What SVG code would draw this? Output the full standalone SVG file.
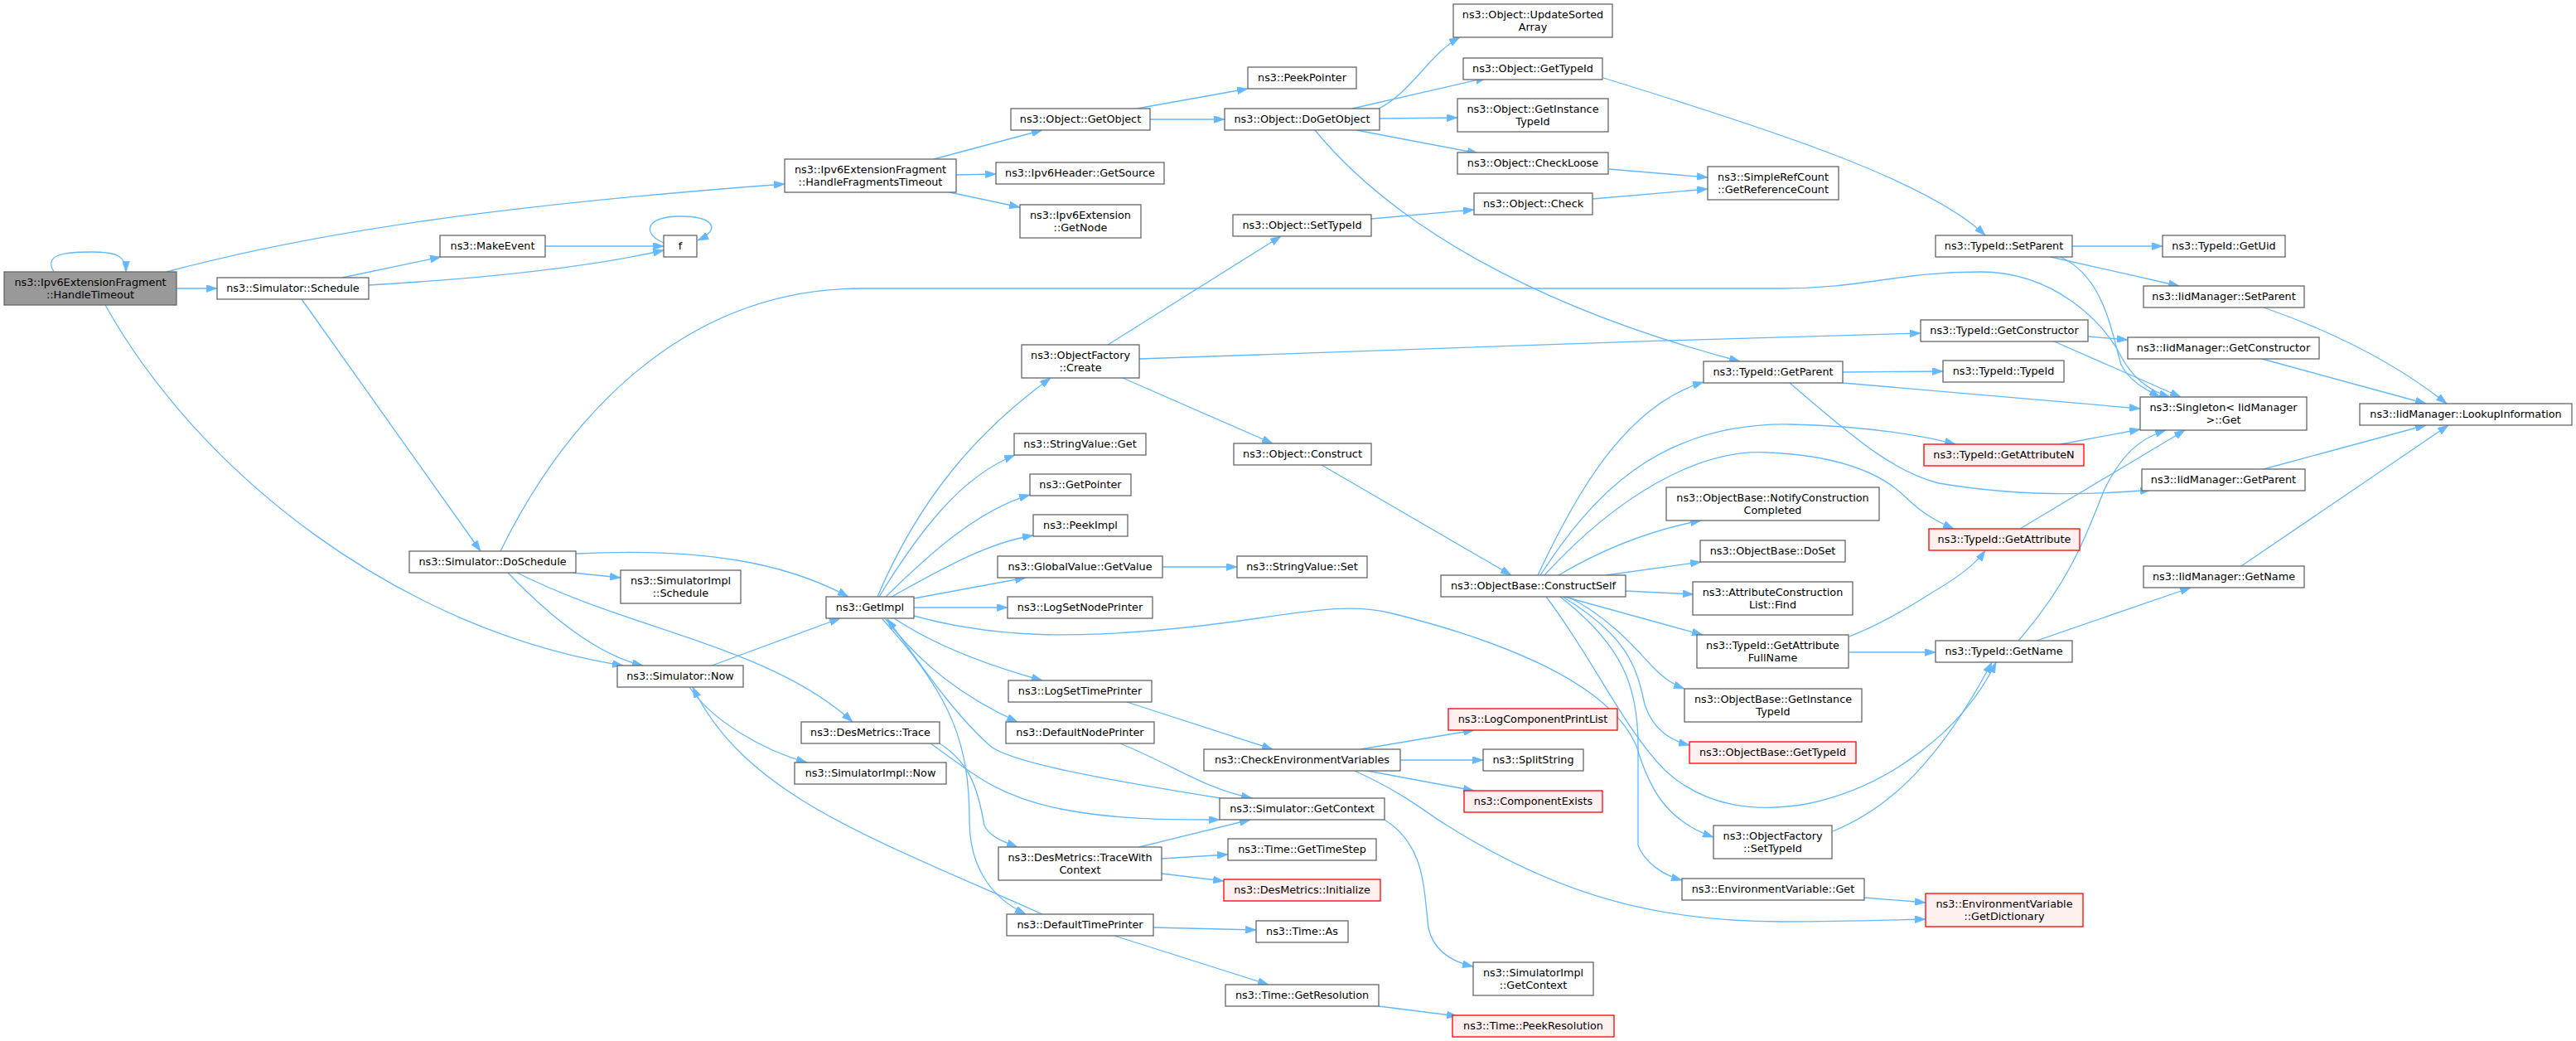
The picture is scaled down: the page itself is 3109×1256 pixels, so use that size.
<svg xmlns="http://www.w3.org/2000/svg" width="3109" height="1256" viewBox="0 0 3109 1256">
<style>
.n rect{fill:#ffffff;stroke:#666666;stroke-width:1.3}
.r rect{fill:#fff0f0;stroke:#ff0000;stroke-width:1.3}
.g rect{fill:#999999;stroke:#666666;stroke-width:1.3}
text{font-family:"DejaVu Sans","Liberation Sans",sans-serif;font-size:12.8px;text-anchor:middle;fill:#000000}
#edges path{fill:none;stroke:#63b8ff;stroke-width:1.3;marker-end:url(#a)}
</style>
<defs>
<marker id="a" viewBox="0 0 10 7" refX="10" refY="3.5" markerWidth="13" markerHeight="9" markerUnits="userSpaceOnUse" orient="auto">
<path d="M0,0 L10,3.5 L0,7 z" fill="#63b8ff" stroke="#63b8ff" stroke-width="0.5"/>
</marker>
</defs>
<rect width="3109" height="1256" fill="#ffffff"/>
<g id="edges">
<path d="M65,328 C52,306 80,304 110,304 C140,304 152,308 152,328"/>
<path d="M201,328 C380,280 600,248 947,222"/>
<path d="M213,348 L262,348"/>
<path d="M127,368 C240,570 480,760 752,803"/>
<path d="M413,335 L532,310"/>
<path d="M445,344 C600,335 720,320 801,302"/>
<path d="M364,361 L580,665"/>
<path d="M658,297 L801,297"/>
<path d="M801,293 C775,282 778,261 821,261 C860,261 872,276 842,290"/>
<path d="M1127,192 L1258,157"/>
<path d="M1154,211 L1202,210"/>
<path d="M1146,232 L1231,250"/>
<path d="M1372,131 L1506,107"/>
<path d="M1388,144 L1478,144"/>
<path d="M1664,131 C1705,110 1725,65 1762,45"/>
<path d="M1632,131 L1794,94"/>
<path d="M1665,143 L1759,142"/>
<path d="M1637,157 L1784,185"/>
<path d="M1587,157 C1680,270 1850,370 2100,436"/>
<path d="M1935,94 C2150,160 2330,220 2396,284"/>
<path d="M1942,204 L2061,214"/>
<path d="M1922,240 L2061,228"/>
<path d="M1655,264 L1779,253"/>
<path d="M2501,297 L2610,297"/>
<path d="M2475,310 L2630,345"/>
<path d="M2487,310 C2540,335 2548,400 2560,440 C2570,460 2590,470 2607,479"/>
<path d="M604,665 C680,510 820,348 1040,348 L2150,348 C2250,348 2290,328 2390,328 C2480,328 2540,390 2560,430 C2575,458 2595,472 2619,479"/>
<path d="M695,668 C850,660 950,680 1024,720"/>
<path d="M691,691 L749,697"/>
<path d="M613,691 C660,740 720,790 776,803"/>
<path d="M624,691 C760,760 930,780 1029,871"/>
<path d="M859,803 L1014,746"/>
<path d="M832,829 C860,870 920,905 974,920"/>
<path d="M1258,1103 C1050,1010 900,960 836,829"/>
<path d="M1059,720 C1110,600 1180,520 1268,456"/>
<path d="M1061,720 C1110,640 1160,575 1225,549"/>
<path d="M1069,720 C1120,670 1180,615 1243,597"/>
<path d="M1076,720 C1130,690 1190,655 1247,646"/>
<path d="M1103,722 L1238,697"/>
<path d="M1103,733 L1216,733"/>
<path d="M1103,743 C1200,770 1300,772 1450,755 C1560,742 1620,725 1680,740 C1800,770 1940,820 1975,900 C1990,950 2010,990 2068,1010"/>
<path d="M1079,746 C1130,780 1200,805 1258,821"/>
<path d="M1069,747 C1110,800 1160,840 1228,871"/>
<path d="M1065,747 C1150,840 1170,900 1170,990 C1170,1050 1200,1085 1238,1103"/>
<path d="M1473,963 C1330,940 1220,920 1195,900 C1150,860 1110,800 1071,747"/>
<path d="M1123,897 C1170,930 1200,960 1280,976 C1350,990 1420,989 1472,989"/>
<path d="M1134,897 C1170,920 1180,950 1188,996 C1195,1010 1210,1015 1228,1022"/>
<path d="M1352,897 C1420,925 1450,950 1511,963"/>
<path d="M1360,847 L1536,904"/>
<path d="M1403,684 L1493,684"/>
<path d="M1375,1022 L1509,989"/>
<path d="M1402,1036 L1482,1031"/>
<path d="M1402,1054 L1477,1063"/>
<path d="M1392,1119 L1516,1122"/>
<path d="M1345,1129 L1531,1188"/>
<path d="M1664,1214 L1759,1226"/>
<path d="M1671,989 C1720,1020 1718,1070 1724,1120 C1730,1145 1750,1160 1778,1166"/>
<path d="M1642,904 L1779,881"/>
<path d="M1690,917 L1790,917"/>
<path d="M1650,930 L1779,954"/>
<path d="M1635,930 C1700,960 1720,980 1745,995 C1880,1080 2000,1112 2150,1112 C2230,1112 2280,1110 2324,1109"/>
<path d="M2250,1083 L2324,1089"/>
<path d="M1337,416 L1546,285"/>
<path d="M1355,456 L1536,535"/>
<path d="M1375,433 C1600,425 2000,410 2318,402"/>
<path d="M1595,561 L1824,694"/>
<path d="M1856,694 C1900,600 1960,490 2056,461"/>
<path d="M1859,694 C1920,600 2000,510 2160,512 C2250,514 2320,525 2360,536"/>
<path d="M1864,694 C1950,600 2050,540 2135,546 C2220,550 2270,570 2300,600 C2320,620 2340,630 2358,638"/>
<path d="M1881,694 C1930,665 1990,640 2053,628"/>
<path d="M1938,694 L2053,678"/>
<path d="M1962,713 L2044,717"/>
<path d="M1888,720 L2055,766"/>
<path d="M1893,720 C1950,750 1980,790 1995,805 C2010,820 2020,826 2033,831"/>
<path d="M1886,720 C1960,765 1975,800 1985,850 C1995,880 2015,893 2039,899"/>
<path d="M1866,720 C1920,790 1960,880 2010,930 C2060,975 2120,980 2180,970 C2280,950 2370,880 2409,799"/>
<path d="M1883,720 C1960,780 1977,830 1977,900 L1977,1020 C1985,1040 2005,1055 2030,1062"/>
<path d="M2212,1003 C2280,975 2340,920 2404,799"/>
<path d="M2232,768 C2290,745 2330,715 2340,710 C2365,695 2385,680 2396,664"/>
<path d="M2232,787 L2336,787"/>
<path d="M2224,449 L2345,448"/>
<path d="M2224,462 L2583,493"/>
<path d="M2160,462 C2250,540 2290,570 2340,583 C2440,600 2530,597 2596,591"/>
<path d="M2487,536 L2583,518"/>
<path d="M2438,638 L2637,519"/>
<path d="M2436,773 C2500,700 2520,640 2540,590 C2560,550 2580,530 2614,519"/>
<path d="M2458,773 L2644,709"/>
<path d="M2705,683 L2955,513"/>
<path d="M2732,566 L2928,513"/>
<path d="M2730,433 L2928,487"/>
<path d="M2732,371 C2830,405 2900,445 2953,487"/>
<path d="M2520,406 L2568,410"/>
<path d="M2477,411 L2632,479"/>
</g>
<g id="n_root" class="g"><rect x="5" y="328" width="208" height="40"/><text x="109" y="345">ns3::Ipv6ExtensionFragment</text><text x="109" y="359.6">::HandleTimeout</text></g>
<g id="n_schedule" class="n"><rect x="262" y="335" width="183" height="26"/><text x="353.5" y="352.3">ns3::Simulator::Schedule</text></g>
<g id="n_makeevent" class="n"><rect x="531" y="284" width="127" height="26"/><text x="594.5" y="301.3">ns3::MakeEvent</text></g>
<g id="n_f" class="n"><rect x="801" y="284" width="40" height="26"/><text x="821" y="301.3">f</text></g>
<g id="n_hft" class="n"><rect x="947" y="192" width="207" height="40"/><text x="1050.5" y="209">ns3::Ipv6ExtensionFragment</text><text x="1050.5" y="223.6">::HandleFragmentsTimeout</text></g>
<g id="n_getobject" class="n"><rect x="1220" y="131" width="168" height="26"/><text x="1304" y="148.3">ns3::Object::GetObject</text></g>
<g id="n_getsource" class="n"><rect x="1202" y="196" width="203" height="26"/><text x="1303.5" y="213.3">ns3::Ipv6Header::GetSource</text></g>
<g id="n_getnode" class="n"><rect x="1231" y="247" width="146" height="40"/><text x="1304" y="264">ns3::Ipv6Extension</text><text x="1304" y="278.6">::GetNode</text></g>
<g id="n_peekpointer" class="n"><rect x="1506" y="81" width="131" height="26"/><text x="1571.5" y="98.3">ns3::PeekPointer</text></g>
<g id="n_dogetobject" class="n"><rect x="1478" y="131" width="187" height="26"/><text x="1571.5" y="148.3">ns3::Object::DoGetObject</text></g>
<g id="n_obj_settypeid" class="n"><rect x="1488" y="259" width="167" height="26"/><text x="1571.5" y="276.3">ns3::Object::SetTypeId</text></g>
<g id="n_updatesorted" class="n"><rect x="1754" y="5" width="192" height="40"/><text x="1850" y="22">ns3::Object::UpdateSorted</text><text x="1850" y="36.6">Array</text></g>
<g id="n_obj_gettypeid" class="n"><rect x="1766" y="70" width="168" height="26"/><text x="1850" y="87.3">ns3::Object::GetTypeId</text></g>
<g id="n_obj_getinst" class="n"><rect x="1759" y="119" width="182" height="40"/><text x="1850" y="136">ns3::Object::GetInstance</text><text x="1850" y="150.6">TypeId</text></g>
<g id="n_checkloose" class="n"><rect x="1759" y="184" width="182" height="26"/><text x="1850" y="201.3">ns3::Object::CheckLoose</text></g>
<g id="n_check" class="n"><rect x="1779" y="233" width="143" height="26"/><text x="1850.5" y="250.3">ns3::Object::Check</text></g>
<g id="n_refcount" class="n"><rect x="2061" y="201" width="158" height="40"/><text x="2140" y="218">ns3::SimpleRefCount</text><text x="2140" y="232.6">::GetReferenceCount</text></g>
<g id="n_setparent" class="n"><rect x="2336" y="284" width="165" height="26"/><text x="2418.5" y="301.3">ns3::TypeId::SetParent</text></g>
<g id="n_getuid" class="n"><rect x="2610" y="284" width="148" height="26"/><text x="2684" y="301.3">ns3::TypeId::GetUid</text></g>
<g id="n_iid_setparent" class="n"><rect x="2587" y="345" width="194" height="26"/><text x="2684" y="362.3">ns3::IidManager::SetParent</text></g>
<g id="n_getconstructor" class="n"><rect x="2318" y="386" width="202" height="26"/><text x="2419" y="403.3">ns3::TypeId::GetConstructor</text></g>
<g id="n_iid_getconstructor" class="n"><rect x="2568" y="407" width="231" height="26"/><text x="2683.5" y="424.3">ns3::IidManager::GetConstructor</text></g>
<g id="n_getparent" class="n"><rect x="2056" y="436" width="168" height="26"/><text x="2140" y="453.3">ns3::TypeId::GetParent</text></g>
<g id="n_typeid" class="n"><rect x="2345" y="435" width="146" height="26"/><text x="2418" y="452.3">ns3::TypeId::TypeId</text></g>
<g id="n_singleton" class="n"><rect x="2583" y="479" width="201" height="40"/><text x="2683.5" y="496">ns3::Singleton&lt; IidManager</text><text x="2683.5" y="510.6">&gt;::Get</text></g>
<g id="n_lookup" class="n"><rect x="2848" y="487" width="256" height="26"/><text x="2976" y="504.3">ns3::IidManager::LookupInformation</text></g>
<g id="n_getattrn" class="r"><rect x="2322" y="536" width="193" height="26"/><text x="2418.5" y="553.3">ns3::TypeId::GetAttributeN</text></g>
<g id="n_iid_getparent" class="n"><rect x="2585" y="566" width="197" height="26"/><text x="2683.5" y="583.3">ns3::IidManager::GetParent</text></g>
<g id="n_getattr" class="r"><rect x="2328" y="638" width="182" height="26"/><text x="2419" y="655.3">ns3::TypeId::GetAttribute</text></g>
<g id="n_iid_getname" class="n"><rect x="2587" y="683" width="194" height="26"/><text x="2684" y="700.3">ns3::IidManager::GetName</text></g>
<g id="n_getname" class="n"><rect x="2336" y="773" width="165" height="26"/><text x="2418.5" y="790.3">ns3::TypeId::GetName</text></g>
<g id="n_doschedule" class="n"><rect x="494" y="665" width="201" height="26"/><text x="594.5" y="682.3">ns3::Simulator::DoSchedule</text></g>
<g id="n_impl_schedule" class="n"><rect x="749" y="688" width="145" height="40"/><text x="821.5" y="705">ns3::SimulatorImpl</text><text x="821.5" y="719.6">::Schedule</text></g>
<g id="n_now" class="n"><rect x="745" y="803" width="152" height="26"/><text x="821" y="820.3">ns3::Simulator::Now</text></g>
<g id="n_create" class="n"><rect x="1233" y="416" width="142" height="40"/><text x="1304" y="433">ns3::ObjectFactory</text><text x="1304" y="447.6">::Create</text></g>
<g id="n_sv_get" class="n"><rect x="1224" y="523" width="159" height="26"/><text x="1303.5" y="540.3">ns3::StringValue::Get</text></g>
<g id="n_getpointer" class="n"><rect x="1243" y="572" width="122" height="26"/><text x="1304" y="589.3">ns3::GetPointer</text></g>
<g id="n_peekimpl" class="n"><rect x="1247" y="621" width="114" height="26"/><text x="1304" y="638.3">ns3::PeekImpl</text></g>
<g id="n_gv_getvalue" class="n"><rect x="1204" y="671" width="199" height="26"/><text x="1303.5" y="688.3">ns3::GlobalValue::GetValue</text></g>
<g id="n_lognodeprinter" class="n"><rect x="1216" y="720" width="175" height="26"/><text x="1303.5" y="737.3">ns3::LogSetNodePrinter</text></g>
<g id="n_getimpl" class="n"><rect x="997" y="720" width="106" height="26"/><text x="1050" y="737.3">ns3::GetImpl</text></g>
<g id="n_logtimeprinter" class="n"><rect x="1217" y="821" width="173" height="26"/><text x="1303.5" y="838.3">ns3::LogSetTimePrinter</text></g>
<g id="n_construct" class="n"><rect x="1489" y="535" width="166" height="26"/><text x="1572" y="552.3">ns3::Object::Construct</text></g>
<g id="n_sv_set" class="n"><rect x="1493" y="671" width="157" height="26"/><text x="1571.5" y="688.3">ns3::StringValue::Set</text></g>
<g id="n_constructself" class="n"><rect x="1739" y="694" width="223" height="26"/><text x="1850.5" y="711.3">ns3::ObjectBase::ConstructSelf</text></g>
<g id="n_notify" class="n"><rect x="2011" y="588" width="257" height="40"/><text x="2139.5" y="605">ns3::ObjectBase::NotifyConstruction</text><text x="2139.5" y="619.6">Completed</text></g>
<g id="n_doset" class="n"><rect x="2052" y="652" width="175" height="26"/><text x="2139.5" y="669.3">ns3::ObjectBase::DoSet</text></g>
<g id="n_aclfind" class="n"><rect x="2043" y="702" width="193" height="40"/><text x="2139.5" y="719">ns3::AttributeConstruction</text><text x="2139.5" y="733.6">List::Find</text></g>
<g id="n_getattrfull" class="n"><rect x="2048" y="766" width="183" height="40"/><text x="2139.5" y="783">ns3::TypeId::GetAttribute</text><text x="2139.5" y="797.6">FullName</text></g>
<g id="n_ob_getinst" class="n"><rect x="2033" y="831" width="214" height="40"/><text x="2140" y="848">ns3::ObjectBase::GetInstance</text><text x="2140" y="862.6">TypeId</text></g>
<g id="n_ob_gettypeid" class="r"><rect x="2039" y="895" width="201" height="26"/><text x="2139.5" y="912.3">ns3::ObjectBase::GetTypeId</text></g>
<g id="n_of_settypeid" class="n"><rect x="2068" y="996" width="143" height="40"/><text x="2139.5" y="1013">ns3::ObjectFactory</text><text x="2139.5" y="1027.6">::SetTypeId</text></g>
<g id="n_env_get" class="n"><rect x="2030" y="1060" width="220" height="26"/><text x="2140" y="1077.3">ns3::EnvironmentVariable::Get</text></g>
<g id="n_getdict" class="r"><rect x="2324" y="1078" width="190" height="40"/><text x="2419" y="1095">ns3::EnvironmentVariable</text><text x="2419" y="1109.6">::GetDictionary</text></g>
<g id="n_trace" class="n"><rect x="967" y="871" width="167" height="26"/><text x="1050.5" y="888.3">ns3::DesMetrics::Trace</text></g>
<g id="n_impl_now" class="n"><rect x="959" y="920" width="183" height="26"/><text x="1050.5" y="937.3">ns3::SimulatorImpl::Now</text></g>
<g id="n_defnodeprinter" class="n"><rect x="1214" y="871" width="179" height="26"/><text x="1303.5" y="888.3">ns3::DefaultNodePrinter</text></g>
<g id="n_checkenv" class="n"><rect x="1453" y="904" width="237" height="26"/><text x="1571.5" y="921.3">ns3::CheckEnvironmentVariables</text></g>
<g id="n_getcontext" class="n"><rect x="1472" y="963" width="199" height="26"/><text x="1571.5" y="980.3">ns3::Simulator::GetContext</text></g>
<g id="n_tracewithctx" class="n"><rect x="1205" y="1022" width="197" height="40"/><text x="1303.5" y="1039">ns3::DesMetrics::TraceWith</text><text x="1303.5" y="1053.6">Context</text></g>
<g id="n_gettimestep" class="n"><rect x="1482" y="1012" width="179" height="26"/><text x="1571.5" y="1029.3">ns3::Time::GetTimeStep</text></g>
<g id="n_initialize" class="r"><rect x="1477" y="1061" width="189" height="26"/><text x="1571.5" y="1078.3">ns3::DesMetrics::Initialize</text></g>
<g id="n_deftimeprinter" class="n"><rect x="1215" y="1103" width="177" height="26"/><text x="1303.5" y="1120.3">ns3::DefaultTimePrinter</text></g>
<g id="n_as" class="n"><rect x="1516" y="1111" width="111" height="26"/><text x="1571.5" y="1128.3">ns3::Time::As</text></g>
<g id="n_getresolution" class="n"><rect x="1479" y="1188" width="185" height="26"/><text x="1571.5" y="1205.3">ns3::Time::GetResolution</text></g>
<g id="n_logcomp" class="r"><rect x="1748" y="855" width="204" height="26"/><text x="1850" y="872.3">ns3::LogComponentPrintList</text></g>
<g id="n_splitstring" class="n"><rect x="1790" y="904" width="121" height="26"/><text x="1850.5" y="921.3">ns3::SplitString</text></g>
<g id="n_compexists" class="r"><rect x="1767" y="954" width="167" height="26"/><text x="1850.5" y="971.3">ns3::ComponentExists</text></g>
<g id="n_impl_getcontext" class="n"><rect x="1778" y="1161" width="145" height="40"/><text x="1850.5" y="1178">ns3::SimulatorImpl</text><text x="1850.5" y="1192.6">::GetContext</text></g>
<g id="n_peekres" class="r"><rect x="1753" y="1225" width="195" height="26"/><text x="1850.5" y="1242.3">ns3::Time::PeekResolution</text></g>
</svg>
